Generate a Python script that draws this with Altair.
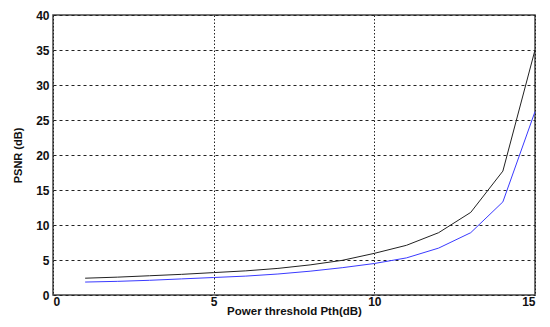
import altair as alt
import pandas as pd

pth = list(range(1, 16))
psnr_black = [2.4, 2.55, 2.75, 2.95, 3.2, 3.45, 3.8, 4.3, 4.95, 5.95, 7.1, 8.9, 11.8, 17.7, 35.0]
psnr_blue = [1.85, 1.95, 2.1, 2.3, 2.5, 2.7, 3.0, 3.4, 3.9, 4.5, 5.3, 6.7, 8.9, 13.3, 26.2]

rows = []
for x, a, b in zip(pth, psnr_black, psnr_blue):
    rows.append({"x": x, "y": a, "s": "black"})
    rows.append({"x": x, "y": b, "s": "blue"})
df = pd.DataFrame(rows)

font = "Liberation Sans"

chart = alt.Chart(df).mark_line(strokeWidth=1).encode(
    x=alt.X("x:Q", scale=alt.Scale(domain=[0, 15], nice=False, zero=False),
            axis=alt.Axis(values=[0, 5, 10, 15], title="Power threshold Pth(dB)",
                          gridDash=[1.5, 2], gridColor="#222", gridOpacity=1, gridWidth=1,
                          ticks=False, labelPadding=1, labelFontWeight="bold", labelFontSize=12,
                          titleFontWeight="bold", titleFontSize=11.5, titlePadding=-2,
                          labelFont=font, titleFont=font, labelColor="#111", titleColor="#111",
                          domain=False)),
    y=alt.Y("y:Q", scale=alt.Scale(domain=[0, 40], nice=False),
            axis=alt.Axis(values=[0, 5, 10, 15, 20, 25, 30, 35, 40], title="PSNR (dB)",
                          gridDash=[3, 3], gridColor="#222", gridOpacity=1, gridWidth=1,
                          ticks=False, labelPadding=4, labelFontWeight="bold", labelFontSize=12,
                          titleFontWeight="bold", titleFontSize=11, titlePadding=12,
                          labelFont=font, titleFont=font, labelColor="#111", titleColor="#111",
                          domain=False)),
    color=alt.Color("s:N", scale=alt.Scale(domain=["black", "blue"], range=["#222222", "#3a3aff"]),
                    legend=None),
).properties(
    width=482, height=280,
    autosize=alt.AutoSizeParams(type="none"),
    padding={"left": 45, "top": 7, "right": 7, "bottom": 24},
).configure_view(stroke="#444", strokeWidth=1.5)

chart.save("out.html", embed_options={"renderer": "svg", "actions": False})
